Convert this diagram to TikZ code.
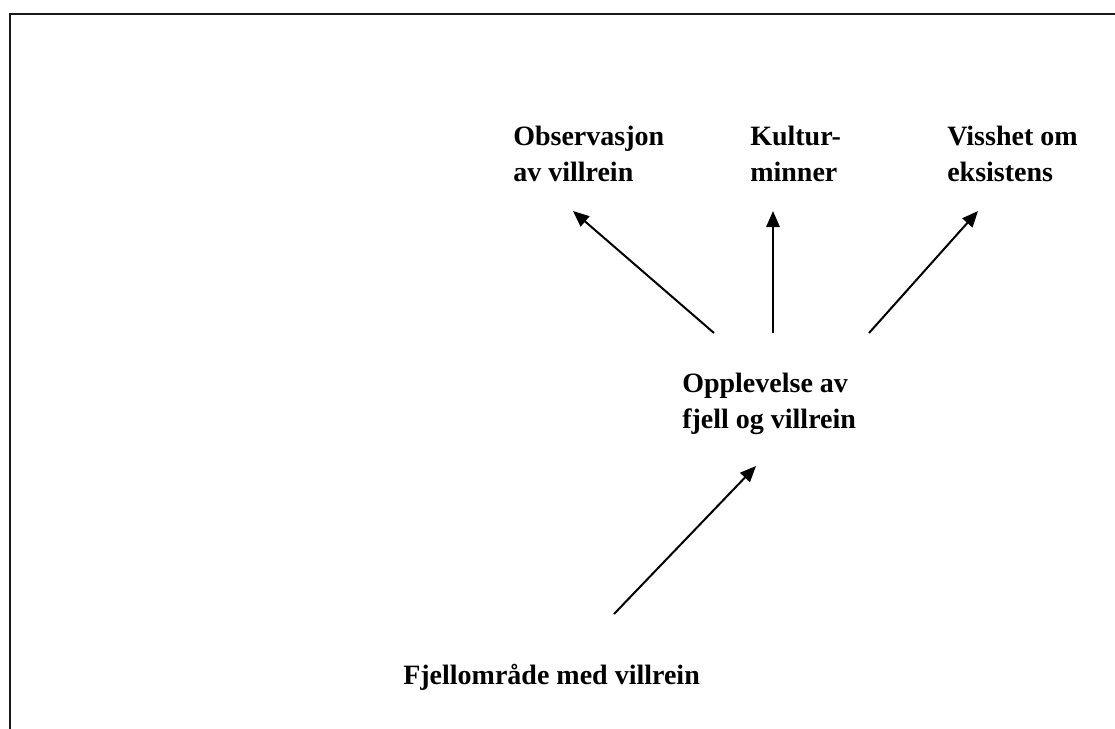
\documentclass[tikz,border=0pt]{standalone}
\usepackage{fontspec}
\setmainfont{Liberation Serif}
\usepackage{tikz}
\usetikzlibrary{arrows.meta, positioning}

\begin{document}
\begin{tikzpicture}[
	x=0.75pt, y=-0.75pt,
	every node/.style={inner sep=0pt, align=left, anchor=base west, font=\fontsize{21}{27}\selectfont\bfseries},
	arrow/.style={-{Triangle[length=12pt, width=10pt]}, line width=1.5pt},
	frame/.style={line width=1.5pt, black!90}
	]
	\useasboundingbox (0,0) rectangle (1115,729);
	\draw[frame] (1115,14) -- (10,14) -- (10,729);
	
	% --- TEKSTER ---
	\node (obs) at (513,181) {Observasjon\\av villrein};
	\node (kultur) at (750,181) {Kultur-\\minner};
	\node (visshet) at (947,181) {Visshet om\\eksistens};
	
	\node (opplev) at (682,428) {Opplevelse av\\fjell og villrein};
	\node (fjell) at (403,684) {Fjellområde med villrein};
	
	% --- PILER ---
	\coordinate (obs_end) at (573,211);
	\coordinate (kultur_end) at (773,211);
	\coordinate (visshet_end) at (978,211);
	\coordinate (opplev_a) at (714,333);
	\coordinate (opplev_b) at (773,333);
	\coordinate (opplev_c) at (869,333);
	\coordinate (opplev_end) at (756,466);
	\coordinate (fjell_start) at (614,614);
	
	\draw[arrow] (opplev_a) -- (obs_end);
	\draw[arrow] (opplev_b) -- (kultur_end);
	\draw[arrow] (opplev_c) -- (visshet_end);
	\draw[arrow] (fjell_start) -- (opplev_end);
	
\end{tikzpicture}
\end{document}
